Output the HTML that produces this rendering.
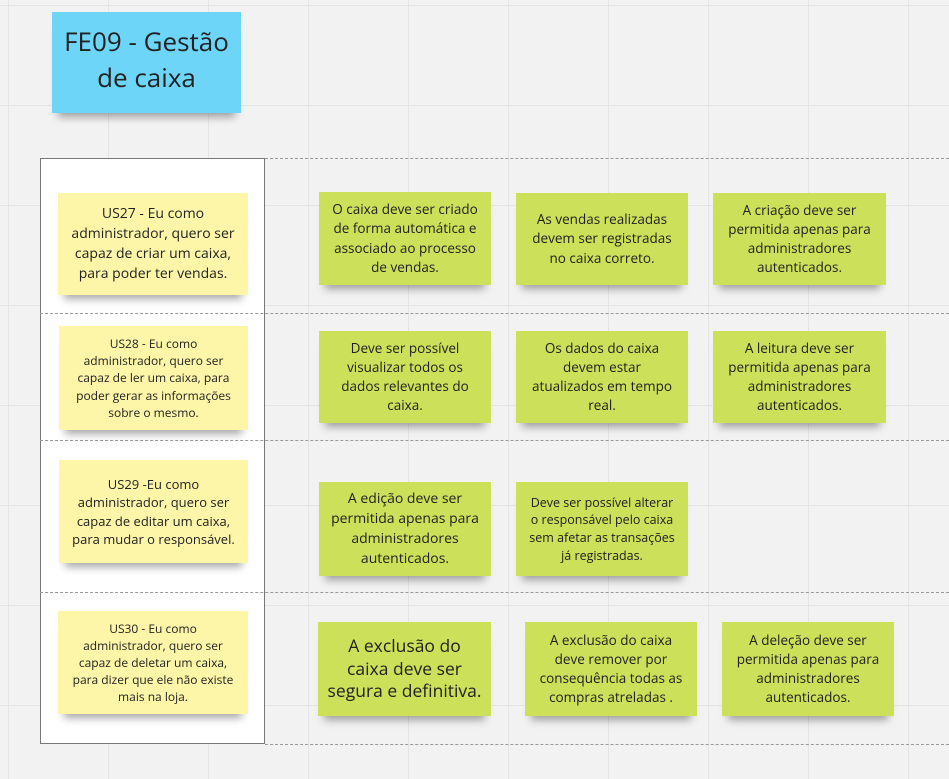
<!DOCTYPE html>
<html><head><meta charset="utf-8"><style>
body{margin:0;width:949px;height:779px;overflow:hidden;background:#f2f2f2;
background-image:linear-gradient(#e4e4e4 1px,transparent 1px),linear-gradient(90deg,#e4e4e4 1px,transparent 1px);
background-size:100px 100px;background-position:8px 5px;font-family:"Open Sans","DejaVu Sans","Liberation Sans",sans-serif;position:relative}
.n{position:absolute;display:flex;align-items:center;justify-content:center;text-align:center;color:#222;box-shadow:0 10px 8px -6px rgba(0,0,0,.35);line-height:1.42;box-sizing:border-box;padding:4px 8px}
.y{background:#fdf6a8}.g{background:#cde05a}
.panel{position:absolute;left:40px;top:158px;width:225px;height:586px;background:#fff;border:1px solid #777;box-sizing:border-box}
.h{position:absolute;left:40px;right:0;border-top:1px dashed #999;height:0}
</style></head><body>
<div class="panel"></div>
<div class="h" style="top:158px;left:265px"></div>
<div class="h" style="top:313px"></div>
<div class="h" style="top:440px"></div>
<div class="h" style="top:592px"></div>
<div class="h" style="top:744px;left:265px"></div>
<div class="n" style="left:52px;top:12px;width:189px;height:101px;background:#6dd6f8;font-size:26px;line-height:1.35;padding:0 4px 6px">FE09 - Gestão de caixa</div>

<div class="n y" style="left:58px;top:193px;width:190px;height:102px;font-size:14px">US27 - Eu como administrador, quero ser capaz de criar um caixa, para poder ter vendas.</div>
<div class="n g" style="left:319px;top:192px;width:172px;height:93px;font-size:13.5px">O caixa deve ser criado de forma automática e associado ao processo de vendas.</div>
<div class="n g" style="left:516px;top:193px;width:172px;height:92px;font-size:13.5px;padding:4px 12px">As vendas realizadas devem ser registradas no caixa correto.</div>
<div class="n g" style="left:713px;top:193px;width:173px;height:92px;font-size:13.5px">A criação deve ser permitida apenas para administradores autenticados.</div>

<div class="n y" style="left:59px;top:326px;width:189px;height:104px;font-size:12px;padding:4px 16px">US28 - Eu como administrador, quero ser capaz de ler um caixa, para poder gerar as informações sobre o mesmo.</div>
<div class="n g" style="left:319px;top:331px;width:172px;height:92px;font-size:13.5px;padding:4px 16px">Deve ser possível visualizar todos os dados relevantes do caixa.</div>
<div class="n g" style="left:516px;top:331px;width:172px;height:92px;font-size:13.5px;padding:4px 14px">Os dados do caixa devem estar atualizados em tempo real.</div>
<div class="n g" style="left:713px;top:331px;width:173px;height:92px;font-size:13.5px">A leitura deve ser permitida apenas para administradores autenticados.</div>

<div class="n y" style="left:59px;top:460px;width:189px;height:103px;font-size:13px">US29 -Eu como administrador, quero ser capaz de editar um caixa, para mudar o responsável.</div>
<div class="n g" style="left:319px;top:482px;width:172px;height:94px;font-size:14px">A edição deve ser permitida apenas para administradores autenticados.</div>
<div class="n g" style="left:516px;top:482px;width:172px;height:94px;font-size:12.5px;padding:4px 10px">Deve ser possível alterar o responsável pelo caixa sem afetar as transações já registradas.</div>

<div class="n y" style="left:58px;top:611px;width:190px;height:103px;font-size:12px;padding:4px 12px">US30 - Eu como administrador, quero ser capaz de deletar um caixa, para dizer que ele não existe mais na loja.</div>
<div class="n g" style="left:318px;top:622px;width:173px;height:94px;font-size:17.5px;line-height:1.3;padding:4px 2px"><span>A exclusão do<br>caixa deve ser<br>segura e definitiva.</span></div>
<div class="n g" style="left:525px;top:622px;width:172px;height:94px;font-size:13.5px;padding:4px 12px">A exclusão do caixa deve remover por consequência todas as compras atreladas .</div>
<div class="n g" style="left:722px;top:622px;width:172px;height:94px;font-size:13.5px">A deleção deve ser permitida apenas para administradores autenticados.</div>
</body></html>
